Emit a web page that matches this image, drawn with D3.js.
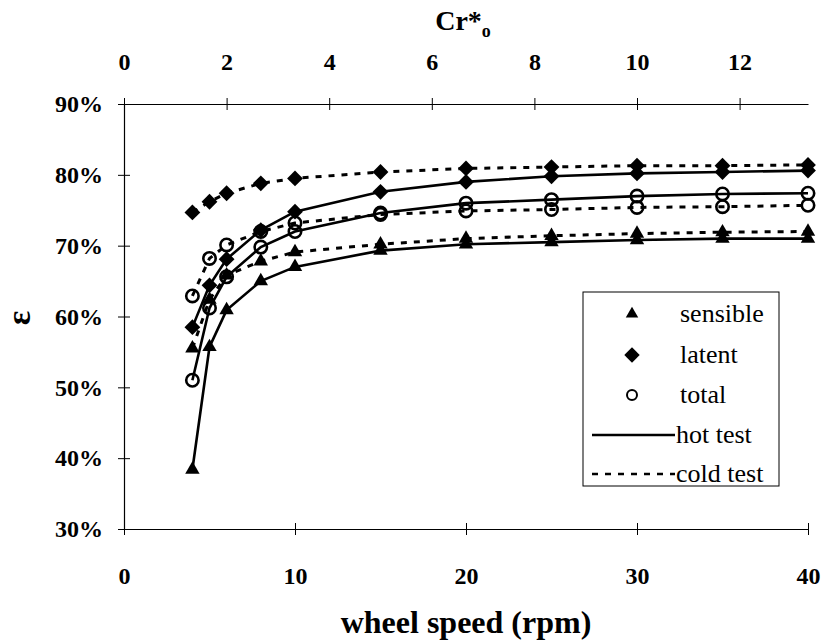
<!DOCTYPE html>
<html>
<head>
<meta charset="utf-8">
<script src="https://cdn.jsdelivr.net/npm/d3@7"></script>
<style>
  html, body { margin: 0; padding: 0; background: #fff; }
</style>
</head>
<body>
<svg id="chart" width="825" height="644"></svg>
<script>
const FONT = "'Liberation Serif', 'Times New Roman', serif";

// wheel speed (rpm) for every measured point
const rpm = [4, 5, 6, 8, 10, 15, 20, 25, 30, 35, 40];

// effectiveness (%)
const sensibleHot  = [38.4, 55.7, 60.9, 65.0, 67.0, 69.3, 70.2, 70.5, 70.8, 71.0, 71.0];
const sensibleCold = [55.5, 62.4, 65.8, 67.8, 69.1, 70.2, 71.0, 71.4, 71.7, 71.9, 72.0];
const latentHot    = [58.5, 64.4, 68.1, 72.2, 74.8, 77.6, 79.0, 79.8, 80.2, 80.4, 80.6];
const latentCold   = [74.7, 76.2, 77.4, 78.8, 79.5, 80.4, 80.9, 81.1, 81.3, 81.3, 81.4];
const totalHot     = [51.0, 61.2, 65.6, 69.8, 72.0, 74.6, 76.0, 76.5, 77.0, 77.3, 77.4];
const totalCold    = [62.9, 68.2, 70.1, 72.0, 73.2, 74.4, 74.9, 75.1, 75.4, 75.5, 75.7];

const rpmTicks = [0, 10, 20, 30, 40];
const crTicks = [0, 2, 4, 6, 8, 10, 12];
const pctTicks = [30, 40, 50, 60, 70, 80, 90];

const legendItems = ["sensible", "latent", "total", "hot test", "cold test"];

const series = [
    { values: sensibleHot,  marker: "triangle", dashed: false },
    { values: latentHot,    marker: "diamond",  dashed: false },
    { values: totalHot,     marker: "circle",   dashed: false },
    { values: sensibleCold, marker: "triangle", dashed: true },
    { values: latentCold,   marker: "diamond",  dashed: true },
    { values: totalCold,    marker: "circle",   dashed: true }
];

const svg = d3.select("#chart");
const margin = { top: 104, right: 17, bottom: 115, left: 124 };
const width = 825 - margin.left - margin.right;
const height = 644 - margin.top - margin.bottom;

const g = svg.append("g")
    .attr("transform", `translate(${margin.left},${margin.top})`);

const x = d3.scaleLinear().domain([0, 40]).range([0, width]);
const xTop = d3.scaleLinear().domain([0, 40 / 3]).range([0, width]);
const y = d3.scaleLinear().domain([30, 90]).range([height, 0]);

// axes (ticks cross the axis line)
function styleAxis(sel, fontSize) {
    sel.attr("font-family", FONT);
    sel.select(".domain").attr("stroke", "#000").attr("stroke-width", 1.2);
    sel.selectAll(".tick line").attr("stroke", "#000").attr("stroke-width", 1);
    sel.selectAll(".tick text")
        .style("font-family", FONT)
        .style("font-size", fontSize + "px")
        .style("font-weight", "bold")
        .attr("fill", "#000");
}

const xAxis = g.append("g")
    .attr("transform", `translate(0,${height})`)
    .call(d3.axisBottom(x).tickValues(rpmTicks).tickSize(6).tickSizeOuter(0).tickPadding(32));
xAxis.selectAll(".tick line").attr("y1", -6);
styleAxis(xAxis, 24);

const topAxis = g.append("g")
    .call(d3.axisTop(xTop).tickValues(crTicks).tickSize(6).tickSizeOuter(0).tickPadding(28));
topAxis.selectAll(".tick line").attr("y1", 6);
styleAxis(topAxis, 24);

const yAxis = g.append("g")
    .call(d3.axisLeft(y).tickValues(pctTicks).tickFormat(d => d + "%").tickSize(6).tickSizeOuter(0).tickPadding(15));
yAxis.selectAll(".tick line").attr("x1", 6);
styleAxis(yAxis, 24);

// axis titles
const topTitle = svg.append("text")
    .attr("x", 463)
    .attr("y", 30)
    .attr("text-anchor", "middle")
    .style("font-family", FONT)
    .style("font-size", "28px")
    .style("font-weight", "bold");
topTitle.append("tspan").text("Cr*");
topTitle.append("tspan").attr("dy", 7).style("font-size", "18px").text("o");

svg.append("text")
    .attr("x", 466)
    .attr("y", 633)
    .attr("text-anchor", "middle")
    .style("font-family", FONT)
    .style("font-size", "32px")
    .style("font-weight", "bold")
    .text("wheel speed (rpm)");

svg.append("text")
    .attr("transform", "translate(30,318) rotate(-90)")
    .attr("text-anchor", "middle")
    .style("font-family", FONT)
    .style("font-size", "34px")
    .style("font-weight", "bold")
    .text("ε");

// lines
const line = d3.line()
    .x((d, i) => x(rpm[i]))
    .y(d => y(d));

series.forEach(s => {
    g.append("path")
        .datum(s.values)
        .attr("fill", "none")
        .attr("stroke", "#000")
        .attr("stroke-width", s.dashed ? 3 : 2.6)
        .attr("stroke-dasharray", s.dashed ? "6,7" : null)
        .attr("d", line);
});

// markers
function drawMarker(sel, type, scale) {
    if (type === "triangle") {
        sel.append("path")
            .attr("d", d3.symbol().type(d3.symbolTriangle).size(90 * scale)())
            .attr("fill", "#000");
    } else if (type === "diamond") {
        sel.append("path")
            .attr("d", d3.symbol().type(d3.symbolSquare).size(125 * scale)())
            .attr("transform", "rotate(45)")
            .attr("fill", "#000");
    } else {
        sel.append("circle")
            .attr("r", 6.2 * Math.sqrt(scale))
            .attr("fill", "none")
            .attr("stroke", "#000")
            .attr("stroke-width", 2.6);
    }
}

series.forEach(s => {
    s.values.forEach((v, i) => {
        const m = g.append("g").attr("transform", `translate(${x(rpm[i])},${y(v)})`);
        drawMarker(m, s.marker, 1);
    });
});

// legend
const legend = svg.append("g").attr("transform", "translate(583,292)");
legend.append("rect")
    .attr("width", 196)
    .attr("height", 194)
    .attr("fill", "#fff")
    .attr("stroke", "#000")
    .attr("stroke-width", 1);

const rowY = [22, 63, 103, 143, 182];
const markerTypes = ["triangle", "diamond", "circle"];
legendItems.forEach((label, i) => {
    const row = legend.append("g").attr("transform", `translate(0,${rowY[i]})`);
    if (i < 3) {
        const m = row.append("g").attr("transform", "translate(49,0)");
        drawMarker(m, markerTypes[i], i === 0 ? 0.75 : 0.95);
        if (i === 2) m.select("circle").attr("r", 5).attr("stroke-width", 2);
    } else {
        row.append("line")
            .attr("x1", 9)
            .attr("x2", 92)
            .attr("stroke", "#000")
            .attr("stroke-width", i === 3 ? 2.6 : 2.4)
            .attr("stroke-dasharray", i === 4 ? "6,7" : null);
    }
    row.append("text")
        .attr("x", i < 3 ? 97 : 93)
        .attr("y", 8)
        .style("font-family", FONT)
        .style("font-size", "26px")
        .text(label);
});
</script>
</body>
</html>
